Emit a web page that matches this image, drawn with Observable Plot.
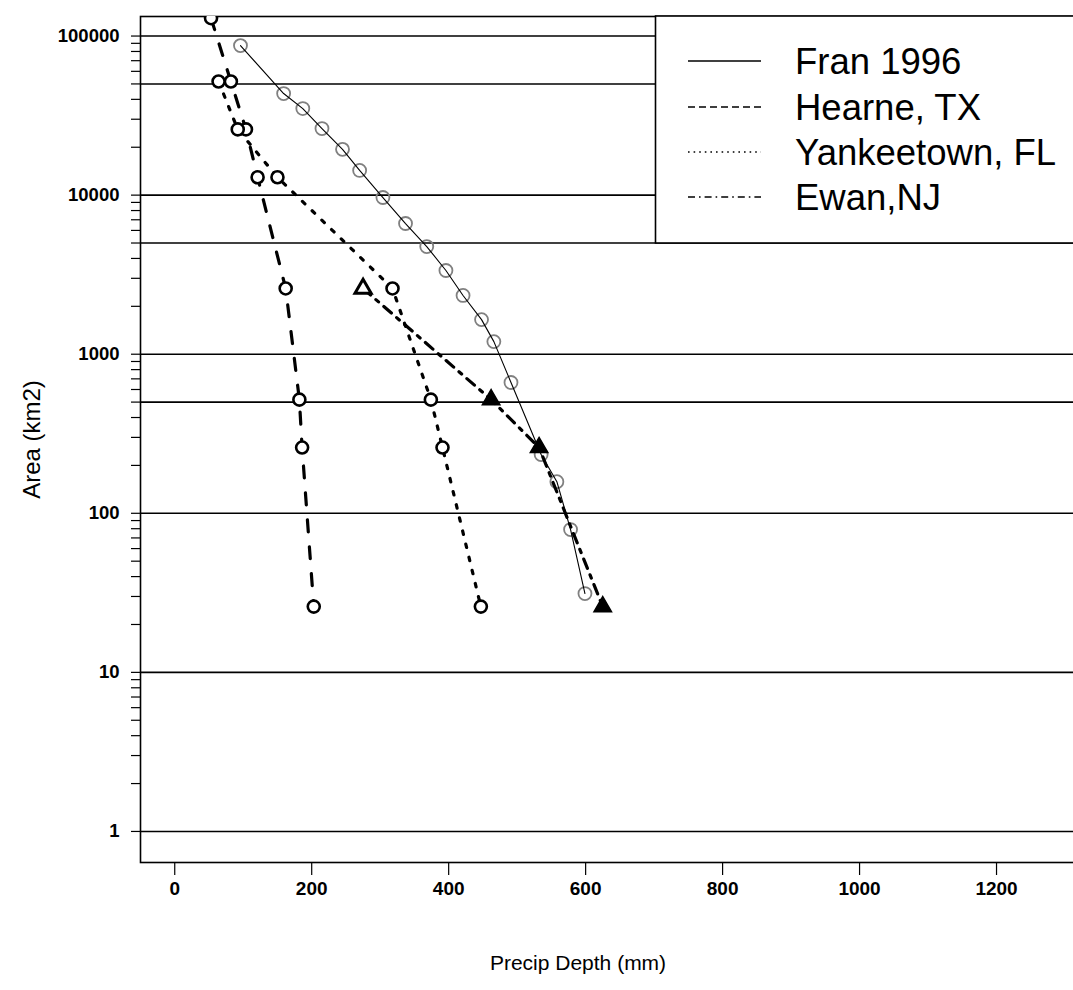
<!DOCTYPE html>
<html>
<head>
<meta charset="utf-8">
<script src="https://cdn.jsdelivr.net/npm/d3@7"></script>
<script src="https://cdn.jsdelivr.net/npm/@observablehq/plot@0.6"></script>
<style>
  html, body { margin: 0; padding: 0; background: white; overflow: hidden; }
  #wrap { position: relative; width: 1073px; height: 990px; overflow: hidden; }
  #wrap svg { overflow: hidden; }
  #legend { position: absolute; left: 0; top: 0; pointer-events: none; }
</style>
</head>
<body>
<div id="wrap"></div>
<script>
// ---- data ----
const seriesNames = ["Fran 1996", "Hearne, TX", "Yankeetown, FL", "Ewan,NJ"];

const franDepth = [96, 159, 187, 215, 245, 270, 304, 337, 368, 396, 421, 448, 466, 491, 535, 558, 578, 599];
const franArea  = [87100, 43500, 35000, 26200, 19400, 14300, 9660, 6630, 4750, 3360, 2340, 1650, 1200, 664, 234, 158, 79, 31.3];

const hearneDepth = [53, 82, 104, 121, 162, 182, 186, 203];
const hearneArea  = [129500, 51800, 25900, 12950, 2590, 518, 259, 25.9];

const yankDepth = [64, 92, 150, 318, 374, 391, 447];
const yankArea  = [51800, 25900, 12950, 2590, 518, 259, 25.9];

const ewanDepth = [275, 462, 532, 625];
const ewanArea  = [2590, 518, 259, 25.9];

const xTicks = [0, 200, 400, 600, 800, 1000, 1200];
const yLabels = [1, 10, 100, 500, 1000, 5000, 10000, 50000, 100000];
const decades = [1, 10, 100, 1000, 10000, 100000];
const mult = [1, 2, 3, 4, 5, 6, 7, 8, 9];

// ---- tables ----
const rows = (xs, ys) => xs.map((x, i) => ({depth: x, area: ys[i]}));
const fran = rows(franDepth, franArea);
const hearne = rows(hearneDepth, hearneArea);
const yank = rows(yankDepth, yankArea);
const ewan = rows(ewanDepth, ewanArea);
const yTicksAll = decades.flatMap(d => mult.map(m => m * d)).filter(v => v < 132700);

const FONT = "'Liberation Sans', Arial, Helvetica, sans-serif";

const chart = Plot.plot({
  width: 1073,
  height: 990,
  marginLeft: 140,
  marginTop: 16,
  marginRight: -10,
  marginBottom: 128,
  style: {fontFamily: FONT, background: "white", color: "black"},
  x: {domain: [-50, 1327]},
  y: {type: "log", domain: [0.638, 132700]},
  marks: [
    Plot.ruleY(yLabels, {stroke: "black", strokeWidth: 1.6}),
    Plot.frame({stroke: "black", strokeWidth: 1.6}),
    Plot.axisY({ticks: yTicksAll, tickSize: 9, tickPadding: 12,
      tickFormat: v => yLabels.includes(v) ? String(v) : "",
      fontSize: 18.5, fontWeight: "bold", label: null, strokeWidth: 1.2}),
    Plot.axisX({ticks: xTicks, tickSize: 13, tickPadding: 6, fontSize: 19,
      tickFormat: v => String(v),
      fontWeight: "bold", label: null, strokeWidth: 1.2}),
    Plot.text(["Precip Depth (mm)"], {text: d => d, frameAnchor: "bottom", dy: 101, dx: -34,
      lineAnchor: "middle", textAnchor: "middle", fontSize: 21}),
    Plot.text(["Area (km2)"], {text: d => d, frameAnchor: "left", dx: -108, rotate: -90,
      textAnchor: "middle", lineAnchor: "middle", fontSize: 24}),

    // Fran 1996
    Plot.dot(fran, {x: "depth", y: "area", r: 6.5, stroke: "#808080", strokeWidth: 1.8, fill: "none", clip: true}),
    Plot.line(fran, {x: "depth", y: "area", stroke: "black", strokeWidth: 1.1, clip: true}),

    // Hearne, TX (dashed)
    Plot.line(hearne, {x: "depth", y: "area", stroke: "black", strokeWidth: 3.2, strokeDasharray: "12,15", clip: true}),
    // Yankeetown, FL (dotted)
    Plot.line(yank, {x: "depth", y: "area", stroke: "black", strokeWidth: 3.2, strokeDasharray: "3.5,10", clip: true}),
    // Ewan, NJ (dash-dot)
    Plot.line(ewan, {x: "depth", y: "area", stroke: "black", strokeWidth: 3.2, strokeDasharray: "10,7,3.5,7", clip: true}),

    Plot.dot(hearne, {x: "depth", y: "area", r: 6, stroke: "black", strokeWidth: 2.6, fill: "white", clip: true}),
    Plot.dot(yank, {x: "depth", y: "area", r: 6, stroke: "black", strokeWidth: 2.6, fill: "white", clip: true}),
    Plot.dot(ewan, {filter: (d, i) => i === 0, x: "depth", y: "area", symbol: "triangle", r: 6, stroke: "black", strokeWidth: 3, fill: "white", clip: true}),
    Plot.dot(ewan, {filter: (d, i) => i > 0, x: "depth", y: "area", symbol: "triangle", r: 6.5, stroke: "black", strokeWidth: 1.5, fill: "black", clip: true})
  ]
});

const wrap = document.getElementById("wrap");
wrap.appendChild(chart);

// ---- legend (box inside plot area, top-right) ----
const legendStyles = [
  {dash: null, width: 1.6},
  {dash: "7,4", width: 1.3},
  {dash: "1.6,4", width: 1.5},
  {dash: "7,4,1.6,4", width: 1.3}
];
const svg = d3.select(wrap).append("svg")
  .attr("id", "legend").attr("width", 1073).attr("height", 990);
svg.append("rect").attr("x", 655.5).attr("y", 16).attr("width", 500).attr("height", 227)
  .attr("fill", "white").attr("stroke", "black").attr("stroke-width", 1.6);
const rowY = [61, 107, 152, 197];
seriesNames.forEach((name, i) => {
  const s = legendStyles[i];
  const ln = svg.append("line").attr("x1", 688).attr("x2", 761)
    .attr("y1", rowY[i]).attr("y2", rowY[i])
    .attr("stroke", "black").attr("stroke-width", s.width);
  if (s.dash) ln.attr("stroke-dasharray", s.dash);
  svg.append("text").attr("x", 795).attr("y", rowY[i])
    .attr("dominant-baseline", "central")
    .attr("font-family", FONT).attr("font-size", 36.5)
    .attr("fill", "black").text(name);
});
</script>
</body>
</html>
